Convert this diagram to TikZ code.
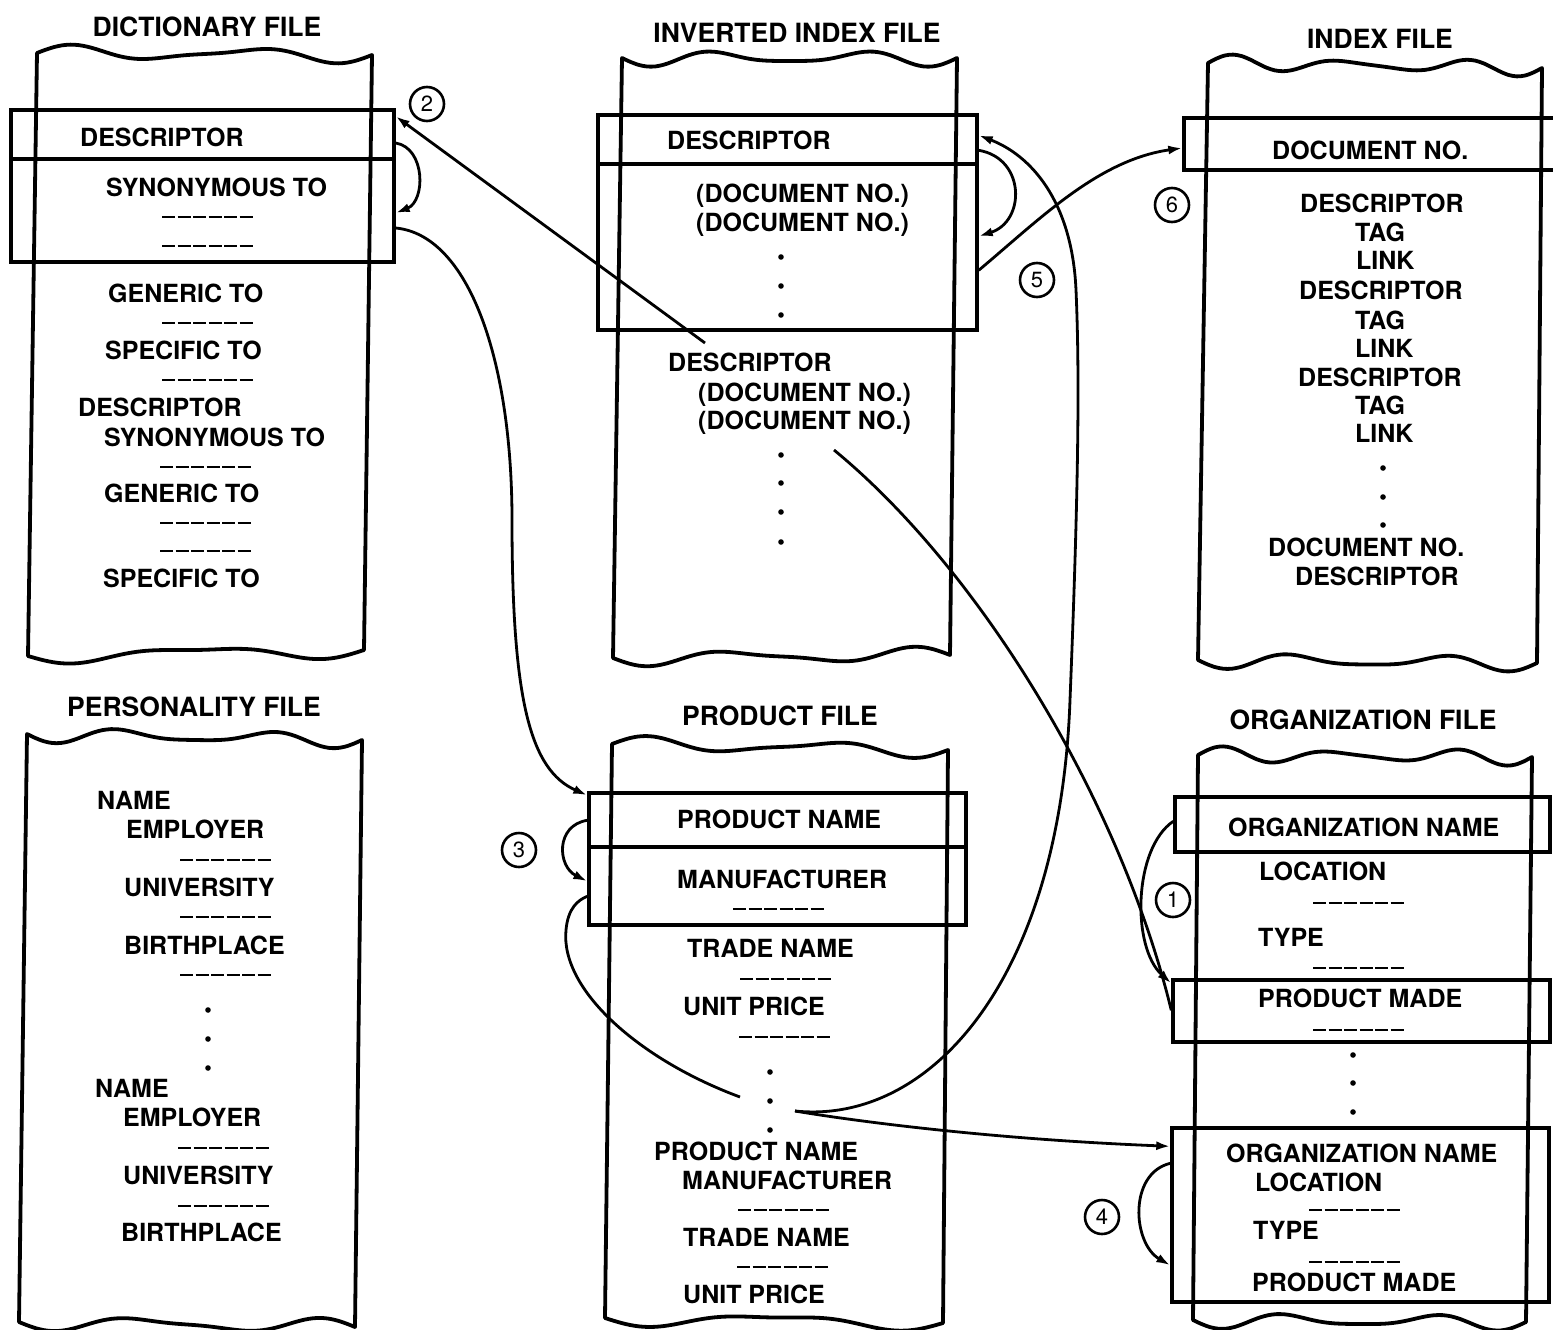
\documentclass[tikz,border=0pt]{standalone}
\usepackage{fontspec}
\setmainfont{TeX Gyre Heros}
\usetikzlibrary{arrows.meta}

\begin{document}
\begin{tikzpicture}[x=1pt, y=-1pt,
    >={Latex[length=14pt,width=9pt]},
    declare function={tear(\s,\m)=6*sin(180*\m*\s)+3*sin(180*(\m+2)*\s);},
    body/.style={line width=3.8pt, line join=round},
    tearplot/.style={smooth, samples=41, domain=0:1, variable=\t},
    rec/.style={draw, rectangle, line width=3.4pt, inner sep=0pt},
    lbl/.style={anchor=west, inner sep=0pt, text height=18pt, text depth=0pt, font=\bfseries\fontsize{25}{28}\selectfont},
    ttl/.style={inner sep=0pt, text height=19pt, text depth=0pt, font=\bfseries\fontsize{26.5}{30}\selectfont},
    blank/.style={line width=2.8pt, dash pattern=on 13pt off 2.5pt},
    num/.style={draw, circle, line width=2.6pt, minimum size=34pt, inner sep=0pt, font=\fontsize{22}{24}\selectfont},
    link/.style={line width=2.8pt}]
  \useasboundingbox (0,0) rectangle (1553,1330);
  % torn file bodies
  \foreach \ax/\ay/\bx/\by/\cx/\cy/\dx/\dy/\k in {37/53/372/55/28/656/364/650/3,
      622/58/957/58/613/658/950/655/4, 1208/63/1542/68/1198/660/1537/663/5,
      27/734/362/740/19/1322/355/1327/4, 612/744/948/750/605/1318/943/1323/3,
      1198/755/1532/757/1193/1320/1526/1322/5}
    \draw[body] (\ax,\ay) -- (\cx,\cy)
      -- plot[tearplot] ({\cx+(\dx-\cx)*\t},{\cy+(\dy-\cy)*\t+tear(\t,\k)})
      -- (\dx,\dy)
      -- plot[tearplot] ({\bx+(\ax-\bx)*\t},{\by+(\ay-\by)*\t+tear(\t,\k+1)})
      -- cycle;
  % titles
  \node[ttl] (dictT) at (207,27) {DICTIONARY FILE};
  \node[ttl] (invT) at (797,33) {INVERTED INDEX FILE};
  \node[ttl] (idxT) at (1380,39) {INDEX FILE};
  \node[ttl] (perT) at (194,707) {PERSONALITY FILE};
  \node[ttl] (prodT) at (780,716) {PRODUCT FILE};
  \node[ttl] (orgT) at (1363,720) {ORGANIZATION FILE};
  % record boxes
  \node[rec, minimum width=383pt, minimum height=152pt] (dictRec) at (202.5,186) {};
  \node[rec, minimum width=379pt, minimum height=215pt] (invRec) at (787.5,222.5) {};
  \node[rec, minimum width=386pt, minimum height=52pt] (idxRec) at (1377,144) {};
  \node[rec, minimum width=377pt, minimum height=132pt] (prodRec) at (777.5,859) {};
  \node[rec, minimum width=375pt, minimum height=55pt] (orgRec1) at (1362.5,824.5) {};
  \node[rec, minimum width=377pt, minimum height=62pt] (orgRec2) at (1361.5,1011) {};
  \node[rec, minimum width=377pt, minimum height=174pt] (orgRec3) at (1360.5,1215) {};
  \draw[line width=3.4pt] ([yshift=27pt]dictRec.west) -- ([yshift=27pt]dictRec.east);
  \draw[line width=3.4pt] ([yshift=58.5pt]invRec.west) -- ([yshift=58.5pt]invRec.east);
  \draw[line width=3.4pt] ([yshift=12pt]prodRec.west) -- ([yshift=12pt]prodRec.east);
  % Dictionary file
  \node[lbl] (dDesc) at (80,137) {DESCRIPTOR};
  \node[lbl] (dSyn) at (106,187) {SYNONYMOUS TO};
  \node[lbl] (dGen) at (108,293) {GENERIC TO};
  \node[lbl] (dSpec) at (105,350) {SPECIFIC TO};
  \node[lbl] (dDesc2) at (78,407) {DESCRIPTOR};
  \node[lbl] (dSyn2) at (104,437) {SYNONYMOUS TO};
  \node[lbl] (dGen2) at (104,493) {GENERIC TO};
  \node[lbl] (dSpec2) at (103,578) {SPECIFIC TO};
  % Inverted index file
  \node[lbl] (iDesc) at (667,140) {DESCRIPTOR};
  \node[lbl] (iDoc) at (696,193) {(DOCUMENT NO.)};
  \node[lbl] (iDocb) at (696,222) {(DOCUMENT NO.)};
  \node[lbl] (iDesc2) at (668,362) {DESCRIPTOR};
  \node[lbl] (iDoc2) at (698,392) {(DOCUMENT NO.)};
  \node[lbl] (iDoc2b) at (698,420) {(DOCUMENT NO.)};
  % Index file
  \node[lbl] (xDoc) at (1272,150) {DOCUMENT NO.};
  \node[lbl] (xDesc) at (1300,203) {DESCRIPTOR};
  \node[lbl] (xTag) at (1355,232) {TAG};
  \node[lbl] (xLink) at (1356,260) {LINK};
  \node[lbl] (xDesc2) at (1299,290) {DESCRIPTOR};
  \node[lbl] (xTag2) at (1355,320) {TAG};
  \node[lbl] (xLink2) at (1355,348) {LINK};
  \node[lbl] (xDesc3) at (1298,377) {DESCRIPTOR};
  \node[lbl] (xTag3) at (1355,405) {TAG};
  \node[lbl] (xLink3) at (1355,433) {LINK};
  \node[lbl] (xDoc2) at (1268,547) {DOCUMENT NO.};
  \node[lbl] (xDesc4) at (1295,576) {DESCRIPTOR};
  % Personality file
  \node[lbl] (pName) at (97,800) {NAME};
  \node[lbl] (pEmp) at (126,829) {EMPLOYER};
  \node[lbl] (pUni) at (124,887) {UNIVERSITY};
  \node[lbl] (pBirth) at (124,945) {BIRTHPLACE};
  \node[lbl] (pName2) at (95,1088) {NAME};
  \node[lbl] (pEmp2) at (123,1117) {EMPLOYER};
  \node[lbl] (pUni2) at (123,1175) {UNIVERSITY};
  \node[lbl] (pBirth2) at (121,1232) {BIRTHPLACE};
  % Product file
  \node[lbl] (rName) at (677,819) {PRODUCT NAME};
  \node[lbl] (rMan) at (677,879) {MANUFACTURER};
  \node[lbl] (rTrade) at (687,948) {TRADE NAME};
  \node[lbl] (rPrice) at (683,1006) {UNIT PRICE};
  \node[lbl] (rName2) at (654,1151) {PRODUCT NAME};
  \node[lbl] (rMan2) at (682,1180) {MANUFACTURER};
  \node[lbl] (rTrade2) at (683,1237) {TRADE NAME};
  \node[lbl] (rPrice2) at (683,1294) {UNIT PRICE};
  % Organization file
  \node[lbl] (oName) at (1228,827) {ORGANIZATION NAME};
  \node[lbl] (oLoc) at (1259,871) {LOCATION};
  \node[lbl] (oType) at (1258,937) {TYPE};
  \node[lbl] (oMade) at (1258,998) {PRODUCT MADE};
  \node[lbl] (oName2) at (1226,1153) {ORGANIZATION NAME};
  \node[lbl] (oLoc2) at (1255,1182) {LOCATION};
  \node[lbl] (oType2) at (1253,1230) {TYPE};
  \node[lbl] (oMade2) at (1252,1282) {PRODUCT MADE};
  % blank entries and dots
  \foreach \x/\y in {162/217, 162/246, 162/323, 162/380, 160/467, 160/523, 160/551,
      180/860, 180/917, 180/975, 178/1148, 178/1206, 733/909, 740/979, 739/1037,
      738/1210, 737/1267, 1313/903, 1313/968, 1313/1030, 1309/1210, 1309/1262}
    \draw[blank] (\x,\y) -- +(91,0);
  \foreach \x/\y in {781/257, 781/286, 781/315, 781/455, 781/483, 781/512, 781/542,
      1383/468, 1383/497, 1383/525, 208/1010, 208/1039, 208/1068,
      770/1072, 770/1101, 770/1130, 1353/1055, 1353/1083, 1353/1112}
    \fill (\x,\y) circle (2.8);
  % step numbers
  \node[num] (n1) at (1173,900) {1};
  \node[num] (n2) at (427,104) {2};
  \node[num] (n3) at (519,850) {3};
  \node[num] (n4) at (1102,1217) {4};
  \node[num] (n5) at (1037,280) {5};
  \node[num] (n6) at (1172,205) {6};
  % links
  \coordinate (iTail) at (705,343);
  \coordinate (iDots) at (834,450);
  \coordinate (rDots) at (795,1111);
  \coordinate (rSwoop) at (740,1097);
  \draw[link,->] (iTail) -- ([yshift=-8pt]dictRec.north east);
  \draw[link,->] ([yshift=43pt]dictRec.east) .. controls +(30,5) and +(30,-12) .. ([yshift=-27pt]dictRec.east);
  \draw[link,->] ([yshift=-42pt]dictRec.east) .. controls +(73,7) and (512,360) .. (512,520)
      .. controls (512,700) and (530,770) .. ([yshift=-4pt]prodRec.north west);
  \draw[link,->] ([yshift=-37pt]invRec.north east) .. controls +(47,8) and +(47,-15) .. ([yshift=-123pt]invRec.north east);
  \draw[link,->] ([yshift=-157pt]invRec.north east) .. controls +(62,-52) and +(-84,12) .. ([yshift=-4pt]idxRec.west);
  \draw[link,->] (rDots) .. controls (930,1125) and (1060,980) .. (1070,700)
      .. controls (1078,500) and (1080,380) .. (1076,290)
      .. controls (1072,200) and (1030,155) .. ([yshift=-22pt]invRec.north east);
  \draw[link,->] (rDots) .. controls +(35,6) and +(-200,-8) .. ([yshift=-20pt]orgRec3.north west);
  \draw[link] (rSwoop) .. controls (640,1060) and (560,990) .. (566,930)
      .. controls (568,908) and (578,900) .. ([yshift=-105pt]prodRec.north west);
  \draw[link,->] ([yshift=-29pt]prodRec.north west) .. controls +(-32,5) and +(-30,-15) .. ([yshift=-90pt]prodRec.north west);
  \draw[link,->] ([yshift=-26pt]orgRec1.north west) .. controls +(-40,27) and +(-40,-36) .. ([yshift=-5pt]orgRec2.north west);
  \draw[link] (iDots) .. controls (980,570) and (1120,800) .. ([yshift=-32pt]orgRec2.north west);
  \draw[link,->] ([yshift=-37pt]orgRec3.north west) .. controls +(-42,10) and +(-38,-22) .. ([yshift=-139pt]orgRec3.north west);
\end{tikzpicture}
\end{document}
